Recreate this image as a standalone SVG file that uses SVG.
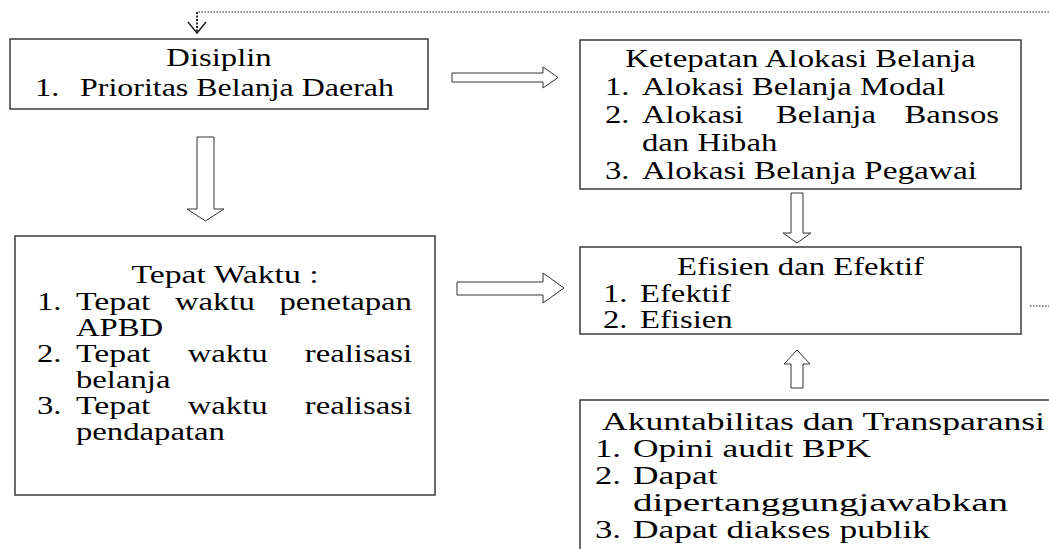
<svg xmlns="http://www.w3.org/2000/svg" width="1049" height="549" viewBox="0 0 1049 549">
<style>
.box{fill:#fff;stroke:#3a3a3a;stroke-width:1.5}
.arr{fill:#fff;stroke:#333;stroke-width:1}
.dot{fill:none;stroke:#222;stroke-width:1;stroke-dasharray:1.5 1.5}
text{font-family:"Liberation Serif","Times New Roman",serif;font-size:25px;fill:#000}
</style>
<rect width="1049" height="549" fill="#fff"/>
<g id="connectors">
<polyline class="dot" points="1049,12 197,12"/>
<line x1="197" y1="12" x2="197" y2="32" stroke="#222" stroke-width="2" stroke-dasharray="2 1.5"/>
<polyline points="188,22 197,33 206,22" fill="none" stroke="#222" stroke-width="1.5"/>
<line class="dot" x1="1030" y1="306" x2="1049" y2="306"/>
<polygon class="arr" points="452,73 543,73 543,67 558,77.5 543,88 543,82 452,82"/>
<polygon class="arr" points="457,282 543,282 543,273 564,288 543,303 543,295 457,295"/>
<polygon class="arr" points="197,137 214,137 214,209 224,209 205.5,221 187,209 197,209"/>
<polygon class="arr" points="791,193 803,193 803,233 811,233 797,243 783,233 791,233"/>
<polygon class="arr" points="797,350 810,364 803,364 803,388 791,388 791,364 784,364"/>
</g>
<g id="disiplin">
<rect class="box" x="10" y="39" width="418" height="70"/>
<text x="166.3" y="66" textLength="105.4" lengthAdjust="spacingAndGlyphs">Disiplin</text>
<text x="35" y="96" textLength="24.5" lengthAdjust="spacingAndGlyphs">1.</text>
<text x="80" y="96" textLength="314" lengthAdjust="spacingAndGlyphs">Prioritas Belanja Daerah</text>
</g>
<g id="ketepatan">
<rect class="box" x="580" y="40" width="441" height="149"/>
<text x="625.2" y="67" textLength="350.5" lengthAdjust="spacingAndGlyphs">Ketepatan Alokasi Belanja</text>
<text x="605" y="95" textLength="24.5" lengthAdjust="spacingAndGlyphs">1.</text>
<text x="642" y="95" textLength="303.4" lengthAdjust="spacingAndGlyphs">Alokasi Belanja Modal</text>
<text x="605" y="123" textLength="24.5" lengthAdjust="spacingAndGlyphs">2.</text>
<text x="642" y="123" textLength="101.7" lengthAdjust="spacingAndGlyphs">Alokasi</text>
<text x="776" y="123" textLength="99.9" lengthAdjust="spacingAndGlyphs">Belanja</text>
<text x="904.5" y="123" textLength="94.5" lengthAdjust="spacingAndGlyphs">Bansos</text>
<text x="642" y="151" textLength="135.3" lengthAdjust="spacingAndGlyphs">dan Hibah</text>
<text x="605" y="179" textLength="24.5" lengthAdjust="spacingAndGlyphs">3.</text>
<text x="642" y="179" textLength="335" lengthAdjust="spacingAndGlyphs">Alokasi Belanja Pegawai</text>
</g>
<g id="tepat-waktu">
<rect class="box" x="15" y="236" width="420" height="259"/>
<text x="131.5" y="283" textLength="187" lengthAdjust="spacingAndGlyphs">Tepat Waktu :</text>
<text x="37" y="309.5" textLength="24.5" lengthAdjust="spacingAndGlyphs">1.</text>
<text x="76" y="309.5" textLength="74.5" lengthAdjust="spacingAndGlyphs">Tepat</text>
<text x="175" y="309.5" textLength="79.9" lengthAdjust="spacingAndGlyphs">waktu</text>
<text x="279.4" y="309.5" textLength="132.6" lengthAdjust="spacingAndGlyphs">penetapan</text>
<text x="76" y="335.5" textLength="87.2" lengthAdjust="spacingAndGlyphs">APBD</text>
<text x="37" y="361.5" textLength="24.5" lengthAdjust="spacingAndGlyphs">2.</text>
<text x="76" y="361.5" textLength="74.5" lengthAdjust="spacingAndGlyphs">Tepat</text>
<text x="187.7" y="361.5" textLength="79.9" lengthAdjust="spacingAndGlyphs">waktu</text>
<text x="304.8" y="361.5" textLength="107.2" lengthAdjust="spacingAndGlyphs">realisasi</text>
<text x="76" y="387.5" textLength="94.4" lengthAdjust="spacingAndGlyphs">belanja</text>
<text x="37" y="413.5" textLength="24.5" lengthAdjust="spacingAndGlyphs">3.</text>
<text x="76" y="413.5" textLength="74.5" lengthAdjust="spacingAndGlyphs">Tepat</text>
<text x="187.7" y="413.5" textLength="79.9" lengthAdjust="spacingAndGlyphs">waktu</text>
<text x="304.8" y="413.5" textLength="107.2" lengthAdjust="spacingAndGlyphs">realisasi</text>
<text x="76" y="439.5" textLength="148.9" lengthAdjust="spacingAndGlyphs">pendapatan</text>
</g>
<g id="efisien">
<rect class="box" x="580" y="247" width="441" height="87"/>
<text x="677" y="275" textLength="247" lengthAdjust="spacingAndGlyphs">Efisien dan Efektif</text>
<text x="603" y="301.5" textLength="24.5" lengthAdjust="spacingAndGlyphs">1.</text>
<text x="640" y="301.5" textLength="90.8" lengthAdjust="spacingAndGlyphs">Efektif</text>
<text x="603" y="328" textLength="24.5" lengthAdjust="spacingAndGlyphs">2.</text>
<text x="640" y="328" textLength="92.6" lengthAdjust="spacingAndGlyphs">Efisien</text>
</g>
<g id="akuntabilitas">
<polyline points="1049,400 580,400 580,549" fill="none" stroke="#3a3a3a" stroke-width="1.5"/>
<text x="602" y="430" textLength="443" lengthAdjust="spacingAndGlyphs">Akuntabilitas dan Transparansi</text>
<text x="595" y="457" textLength="26" lengthAdjust="spacingAndGlyphs">1.</text>
<text x="633" y="457" textLength="238" lengthAdjust="spacingAndGlyphs">Opini audit BPK</text>
<text x="595" y="484" textLength="26" lengthAdjust="spacingAndGlyphs">2.</text>
<text x="633" y="484" textLength="84.5" lengthAdjust="spacingAndGlyphs">Dapat</text>
<text x="633" y="511" textLength="375" lengthAdjust="spacingAndGlyphs">dipertanggungjawabkan</text>
<text x="595" y="538" textLength="26" lengthAdjust="spacingAndGlyphs">3.</text>
<text x="633" y="538" textLength="297" lengthAdjust="spacingAndGlyphs">Dapat diakses publik</text>
</g>
</svg>
